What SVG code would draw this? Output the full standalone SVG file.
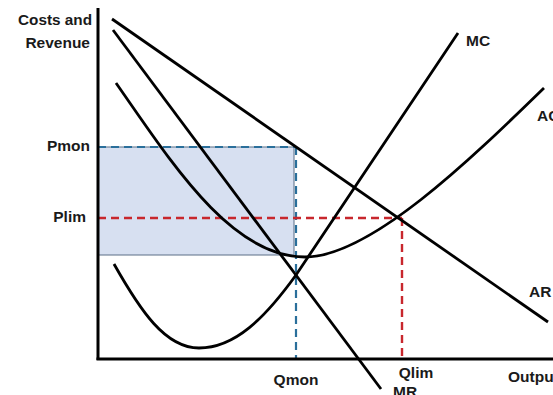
<svg xmlns="http://www.w3.org/2000/svg" width="553" height="395" viewBox="0 0 553 395">
<style>
.lbl{font-family:"Liberation Sans",Arial,sans-serif;font-weight:bold;font-size:15.5px;fill:#1a1a1a}
.curve{fill:none;stroke:#000;stroke-width:2.8;stroke-linecap:butt}
.blue{fill:none;stroke:#2a6f9b;stroke-width:2.2;stroke-dasharray:8 5}
.red{fill:none;stroke:#c8272d;stroke-width:2.4;stroke-dasharray:8 5}
</style>
<rect width="553" height="395" fill="#fff"/>
<g id="profit-area">
<rect x="98" y="147" width="196" height="108" fill="#d7e0f1" stroke="#5b6f86" stroke-width="1"/>
</g>
<g id="connectors">
<line class="blue" x1="98" y1="147" x2="296" y2="147"/>
<line class="blue" x1="296" y1="147" x2="296" y2="358"/>
<line class="red" x1="98" y1="218" x2="402" y2="218"/>
<line class="red" x1="402" y1="218" x2="402" y2="358"/>
</g>
<g id="axes">
<line x1="98" y1="8" x2="98" y2="360" stroke="#000" stroke-width="3"/>
<line x1="96.5" y1="359" x2="553" y2="359" stroke="#000" stroke-width="3"/>
<text class="lbl" x="92" y="25" text-anchor="end" textLength="74" lengthAdjust="spacingAndGlyphs">Costs and</text>
<text class="lbl" x="90" y="48" text-anchor="end">Revenue</text>
</g>
<g id="AR">
<line class="curve" x1="112" y1="19" x2="548" y2="322"/>
<text class="lbl" x="529" y="297">AR</text>
</g>
<g id="MR">
<line class="curve" x1="113" y1="30" x2="381" y2="389"/>
<text class="lbl" x="393" y="397">MR</text>
</g>
<g id="AC">
<path class="curve" d="M116,83 C170,160 230,257 305,257 C370,257 470,160 544,88"/>
<text class="lbl" x="537" y="121">AC</text>
</g>
<g id="MC">
<path class="curve" d="M114,264 C140,310 165,348 199,348 C235,348 265,318 296,275 L458,33"/>
<text class="lbl" x="466" y="46">MC</text>
</g>
<g id="labels">
<text class="lbl" x="90" y="151" text-anchor="end">Pmon</text>
<text class="lbl" x="86" y="222" text-anchor="end">Plim</text>
<text class="lbl" x="296" y="385" text-anchor="middle">Qmon</text>
<text class="lbl" x="416" y="378" text-anchor="middle">Qlim</text>
<text class="lbl" x="508" y="382">Output</text>
</g>
</svg>
